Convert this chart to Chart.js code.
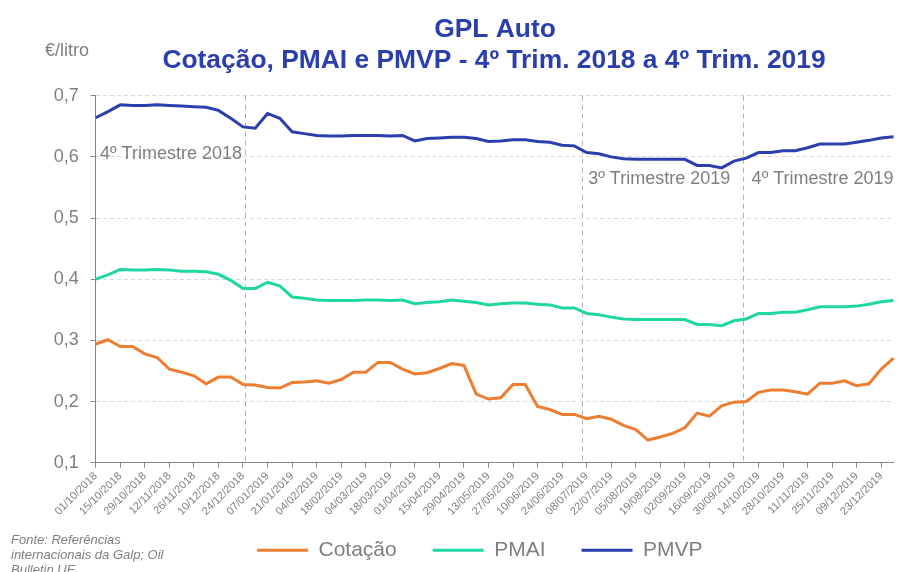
<!DOCTYPE html>
<html>
<head>
<meta charset="utf-8">
<script src="https://cdn.jsdelivr.net/npm/chart.js@4.4.0/dist/chart.umd.min.js"></script>
<style>
  body { margin: 0; background: #fff; }
  canvas { display: block; }
</style>
</head>
<body>
<canvas id="linechart" width="901" height="572"></canvas>
<script>
// semanas (segunda-feira) de 01/10/2018 a 30/12/2019
let labels = [
  '01/10/2018','08/10/2018','15/10/2018','22/10/2018','29/10/2018','05/11/2018','12/11/2018','19/11/2018',
  '26/11/2018','03/12/2018','10/12/2018','17/12/2018','24/12/2018','31/12/2018','07/01/2019','14/01/2019',
  '21/01/2019','28/01/2019','04/02/2019','11/02/2019','18/02/2019','25/02/2019','04/03/2019','11/03/2019',
  '18/03/2019','25/03/2019','01/04/2019','08/04/2019','15/04/2019','22/04/2019','29/04/2019','06/05/2019',
  '13/05/2019','20/05/2019','27/05/2019','03/06/2019','10/06/2019','17/06/2019','24/06/2019','01/07/2019',
  '08/07/2019','15/07/2019','22/07/2019','29/07/2019','05/08/2019','12/08/2019','19/08/2019','26/08/2019',
  '02/09/2019','09/09/2019','16/09/2019','23/09/2019','30/09/2019','07/10/2019','14/10/2019','21/10/2019',
  '28/10/2019','04/11/2019','11/11/2019','18/11/2019','25/11/2019','02/12/2019','09/12/2019','16/12/2019',
  '23/12/2019','30/12/2019'
];

let cotacao = [
  0.294,0.301,0.290,0.290,0.278,0.272,0.253,0.248,0.242,0.229,0.240,0.240,0.228,0.227,0.223,0.222,
  0.231,0.232,0.234,0.230,0.236,0.248,0.248,0.264,0.264,0.253,0.245,0.247,0.254,0.262,0.259,0.212,
  0.204,0.206,0.228,0.228,0.192,0.187,0.179,0.179,0.172,0.176,0.171,0.161,0.154,0.137,0.142,0.148,
  0.157,0.181,0.176,0.193,0.199,0.200,0.215,0.219,0.219,0.216,0.212,0.230,0.230,0.234,0.226,0.229,
  0.253,0.271
];

let pmai = [
  0.400,0.407,0.416,0.415,0.415,0.416,0.415,0.413,0.413,0.412,0.408,0.398,0.385,0.385,0.395,0.389,
  0.371,0.369,0.366,0.365,0.365,0.365,0.366,0.366,0.365,0.366,0.360,0.362,0.363,0.366,0.364,0.362,
  0.358,0.360,0.361,0.361,0.359,0.358,0.353,0.353,0.344,0.342,0.338,0.335,0.334,0.334,0.334,0.334,
  0.334,0.326,0.326,0.324,0.332,0.335,0.344,0.344,0.346,0.346,0.350,0.355,0.355,0.355,0.356,0.359,
  0.363,0.365
];

let pmvp = [
  0.664,0.674,0.685,0.684,0.684,0.685,0.684,0.683,0.682,0.681,0.676,0.663,0.649,0.647,0.671,0.663,
  0.641,0.638,0.635,0.634,0.634,0.635,0.635,0.635,0.634,0.635,0.626,0.630,0.631,0.632,0.632,0.630,
  0.625,0.626,0.628,0.628,0.625,0.624,0.619,0.618,0.607,0.605,0.600,0.597,0.596,0.596,0.596,0.596,
  0.596,0.586,0.586,0.582,0.593,0.598,0.607,0.607,0.610,0.610,0.615,0.621,0.621,0.621,0.624,0.627,
  0.631,0.633
];

// separadores de trimestre (posição na escala de categorias) e respetivos rótulos
let quarterLines = [12.2, 39.6, 52.7];
let quarterNames = ['4º Trimestre 2018', '3º Trimestre 2019', '4º Trimestre 2019'];

let titleLines = ['GPL Auto', 'Cotação, PMAI e PMVP - 4º Trim. 2018 a 4º Trim. 2019'];
let unitLabel = '€/litro';
let sourceLines = ['Fonte: Referências', 'internacionais da Galp; Oil', 'Bulletin UE'];

const FONT = "'Liberation Sans', Arial, sans-serif";
const GREY = '#7f7f7f';

const extras = {
  id: 'extras',
  afterLayout(chart) {
    // a legenda fica um pouco à direita e mais acima do que o layout automático
    const lg = chart.legend;
    lg.left += 8; lg.right += 8;
    lg.top -= 19; lg.bottom -= 19;
  },
  beforeDatasetsDraw(chart) {
    const ctx = chart.ctx;
    const x = chart.scales.x;
    const area = chart.chartArea;
    ctx.save();
    ctx.strokeStyle = '#b0b0b0';
    ctx.lineWidth = 1;
    ctx.setLineDash([5, 4]);
    quarterLines.forEach(function(v) {
      const px = Math.round(x.getPixelForValue(v)) + 0.5;
      ctx.beginPath();
      ctx.moveTo(px, area.top);
      ctx.lineTo(px, area.bottom);
      ctx.stroke();
    });
    ctx.restore();
  },
  afterDraw(chart) {
    const ctx = chart.ctx;
    const x = chart.scales.x;
    const y = chart.scales.y;
    ctx.save();

    // título
    ctx.fillStyle = '#2b3eae';
    ctx.font = 'bold 26.4px ' + FONT;
    ctx.textAlign = 'center';
    ctx.textBaseline = 'alphabetic';
    ctx.fillText(titleLines[0], 495, 37);
    ctx.fillText(titleLines[1], 494, 68);

    // unidade
    ctx.fillStyle = GREY;
    ctx.font = '18px ' + FONT;
    ctx.textAlign = 'left';
    ctx.fillText(unitLabel, 45, 56);

    // rótulos dos trimestres
    ctx.fillText(quarterNames[0], x.getPixelForValue(0.35), y.getPixelForValue(0.5965));
    ctx.fillText(quarterNames[1], x.getPixelForValue(40.13), y.getPixelForValue(0.555));
    ctx.fillText(quarterNames[2], x.getPixelForValue(53.44), y.getPixelForValue(0.555));

    // fonte
    ctx.font = 'italic 13px ' + FONT;
    sourceLines.forEach(function(s, i) {
      ctx.fillText(s, 11, 543.5 + i * 15);
    });
    ctx.restore();
  }
};

new Chart(document.getElementById('linechart'), {
  type: 'line',
  data: {
    labels: labels,
    datasets: [
      { label: 'Cotação', data: cotacao, borderColor: '#ed7d31', backgroundColor: '#ed7d31' },
      { label: 'PMAI', data: pmai, borderColor: '#1fd7a0', backgroundColor: '#1fd7a0' },
      { label: 'PMVP', data: pmvp, borderColor: '#2b3eae', backgroundColor: '#2b3eae' }
    ]
  },
  plugins: [extras],
  options: {
    responsive: false,
    animation: false,
    devicePixelRatio: 1,
    layout: { padding: { left: 50, right: 7.5, top: 95.7, bottom: -17.7 } },
    elements: {
      line: { borderWidth: 3, tension: 0, fill: false },
      point: { radius: 0, hoverRadius: 0 }
    },
    plugins: {
      title: { display: false },
      tooltip: { enabled: false },
      legend: {
        position: 'bottom',
        labels: {
          boxWidth: 51,
          boxHeight: 3,
          padding: 36,
          color: GREY,
          font: { family: FONT, size: 21 },
          generateLabels: function(chart) {
            return Chart.defaults.plugins.legend.labels.generateLabels(chart).map(function(item) {
              item.lineWidth = 0;
              return item;
            });
          }
        }
      }
    },
    scales: {
      x: {
        offset: false,
        afterFit: function(scale) { scale.height = 60; },
        grid: { drawOnChartArea: false, drawTicks: true, tickLength: 5, tickColor: '#868686', offset: false },
        border: { color: '#868686', width: 1 },
        ticks: {
          autoSkip: false,
          maxRotation: 45,
          minRotation: 45,
          padding: 2,
          color: GREY,
          font: { family: FONT, size: 11 },
          callback: function(value, index) {
            return index % 2 === 0 ? labels[index] : null;
          }
        }
      },
      y: {
        min: 0.1,
        max: 0.7,
        afterFit: function(scale) { scale.width = 45.7; },
        grid: { color: '#d9d9d9', tickColor: '#868686', tickLength: 5, tickBorderDash: [] },
        border: { color: '#868686', width: 1, dash: [4, 3] },
        ticks: {
          stepSize: 0.1,
          padding: 12,
          color: GREY,
          font: { family: FONT, size: 18 },
          callback: function(value) { return value.toFixed(1).replace('.', ','); }
        }
      }
    }
  }
});
</script>
</body>
</html>
